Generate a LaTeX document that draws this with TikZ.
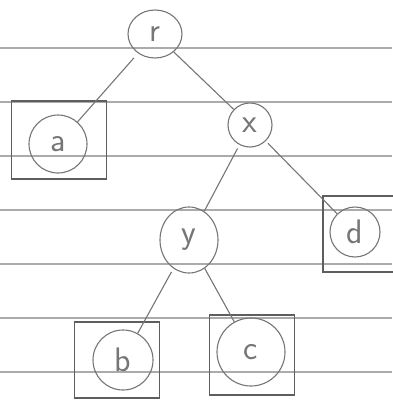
\documentclass[tikz,border=0pt]{standalone}
\usetikzlibrary{shapes.geometric}
\definecolor{pencil}{HTML}{767676}
\definecolor{rule}{HTML}{ABABAB}
\begin{document}
\begin{tikzpicture}[x=1pt,y=-1pt,
  lbl/.style={font=\sffamily\fontsize{34}{36}\selectfont,text=pencil},
  vert/.style={draw=pencil,line width=1.1pt,circle,inner sep=0pt,lbl},
  ovalv/.style={draw=pencil,line width=1.1pt,ellipse,inner sep=0pt,lbl},
  leafbox/.style={draw=pencil!80!black,line width=1.1pt,rectangle,inner sep=0pt},
  edge/.style={draw=pencil,line width=1.1pt},
  ruled/.style={draw=rule,line width=1.6pt}]
\useasboundingbox (0,0) rectangle (392,402);
\fill[white] (0,0) rectangle (392,402);
% ruled paper lines
\foreach \yy in {48,102,156,210,264,318,372}
  \draw[ruled] (0,\yy) -- (392,\yy);
% leaf boxes
\node[leafbox,minimum width=95pt,minimum height=78pt] (abox) at (59,140) {};
\node[leafbox,minimum width=74pt,minimum height=76pt] (dbox) at (360,234) {};
\node[leafbox,minimum width=85pt,minimum height=76pt] (bbox) at (117,360) {};
\node[leafbox,minimum width=85pt,minimum height=80pt] (cbox) at (252,355) {};
% vertices
\node[ovalv,minimum width=54pt,minimum height=48pt] (r) at (155,34) {r};
\node[vert,minimum size=58pt] (a) at (58,144) {a};
\node[vert,minimum size=44pt] (x) at (250,125) {x};
\node[ovalv,minimum width=58pt,minimum height=66pt] (y) at (189,240) {y};
\node[vert,minimum size=50pt] (d) at (355,232) {d};
\node[vert,minimum size=60pt] (b) at (123,360) {b};
\node[vert,minimum size=68pt] (c) at (251,352) {c};
% edges
\draw[edge,shorten <=6pt] (r) -- (a);
\draw[edge] (r) -- (x);
\draw[edge,shorten <=4pt] (x) -- (y);
\draw[edge,shorten <=3pt] (x) -- (d);
\draw[edge,shorten <=4pt] (y) -- (b);
\draw[edge] (y) -- (c);
\end{tikzpicture}
\end{document}
